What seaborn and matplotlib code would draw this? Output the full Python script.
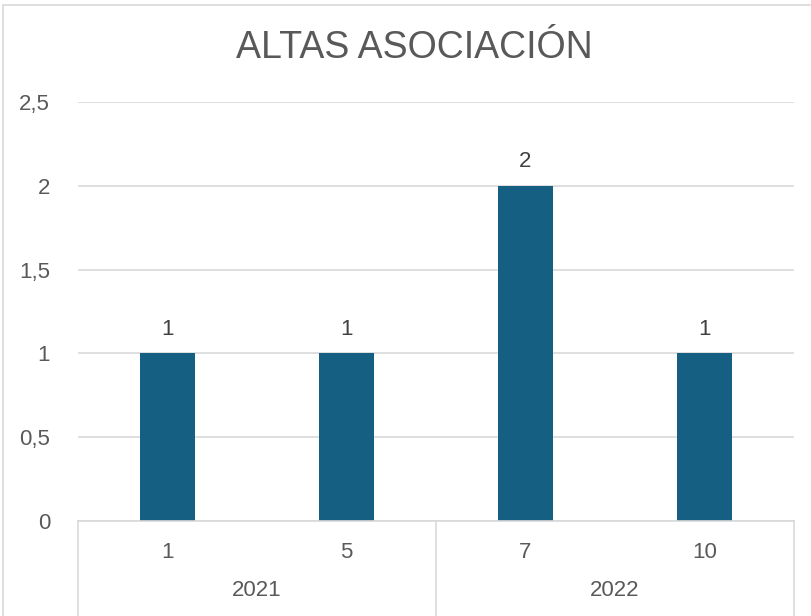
import numpy as np
import pandas as pd
import matplotlib.pyplot as plt
import matplotlib.transforms as mtransforms
from matplotlib.patches import Rectangle
import seaborn as sns

# data
months = ["1", "5", "7", "10"]
years = ["2021", "2021", "2022", "2022"]
altas = [1, 1, 2, 1]
year_groups = ["2021", "2022"]

df = pd.DataFrame({"mes": months, "anio": years, "altas": altas})

sns.set_theme(style="white")
plt.rcParams["font.family"] = ["Liberation Sans", "DejaVu Sans"]

text_color = "#595959"
grid_color = "#D9D9D9"
bar_color = "#156082"

fig = plt.figure(figsize=(8.11, 6.16), dpi=100)
ax = fig.add_axes([78 / 811, 1 - 521 / 616, (794 - 78) / 811, (521 - 102) / 616])

sns.barplot(data=df, x="mes", y="altas", color=bar_color, width=0.31,
            saturation=1, linewidth=0, ax=ax)

ax.set_ylim(0, 2.5)
ax.set_xlim(-0.5, len(months) - 0.5)
yt = np.arange(0, 2.51, 0.5)
ax.set_yticks(yt)
ax.set_yticklabels([("%g" % v).replace(".", ",") for v in yt],
                   color=text_color, fontsize=16)
ax.tick_params(axis="y", length=0, pad=20)
ax.yaxis.grid(True, color=grid_color, linewidth=1.2)
ax.set_axisbelow(True)
for s in ["top", "right", "left"]:
    ax.spines[s].set_visible(False)
ax.spines["bottom"].set_color(grid_color)
ax.spines["bottom"].set_linewidth(1.2)
ax.set_xlabel("")
ax.set_ylabel("")

# month labels (first level of the category axis)
ax.set_xticks(range(len(months)))
ax.set_xticklabels(months, color=text_color, fontsize=16)
ax.tick_params(axis="x", length=0, pad=15)

# value labels on top of the bars
for i, v in enumerate(altas):
    ax.text(i, v + 0.08, str(v), ha="center", va="bottom",
            color="#404040", fontsize=16)

# second level: years with separators
trans = mtransforms.blended_transform_factory(ax.transData, fig.transFigure)
y0 = 1 - 521 / 616
for xs in [-0.5, 1.5, 3.5]:
    ax.plot([xs, xs], [y0, 0], color=grid_color, linewidth=1.2,
            transform=trans, clip_on=False)
for k, yr in enumerate(year_groups):
    ax.text(2 * k + 0.5, 1 - 591 / 616, yr, transform=trans, ha="center",
            va="center", color=text_color, fontsize=16)

fig.text(414 / 811, 1 - 48 / 616, "ALTAS ASOCIACIÓN", ha="center",
         va="center", color=text_color, fontsize=27)

# chart area border
fig.patches.append(Rectangle((3 / 811, 0 - 0.05), 1.0, 1 - 5 / 616 + 0.05,
                             transform=fig.transFigure, fill=False,
                             edgecolor=grid_color, linewidth=1.2))

fig.savefig("out.png", dpi=100)
